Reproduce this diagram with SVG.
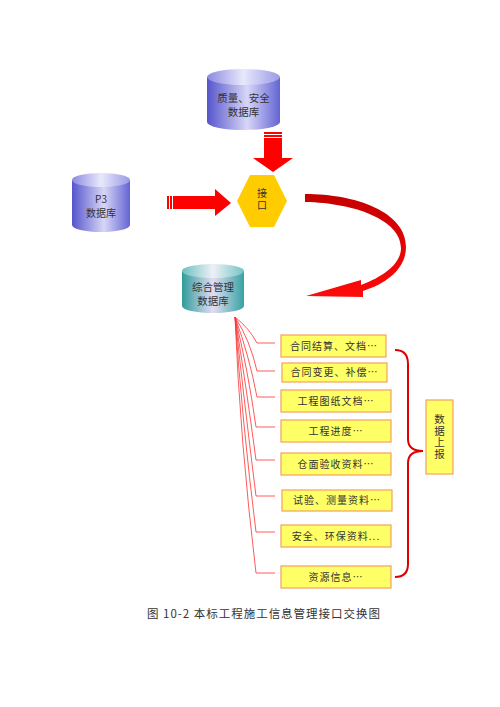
<svg xmlns="http://www.w3.org/2000/svg" width="500" height="707" viewBox="0 0 500 707">
<defs>
<linearGradient id="gBlue" x1="0" y1="0" x2="1" y2="0">
<stop offset="0" stop-color="#5555cc"/>
<stop offset="0.55" stop-color="#d8d6f6"/>
<stop offset="1" stop-color="#6464d4"/>
</linearGradient>
<linearGradient id="gBlueTop" x1="0" y1="0" x2="1" y2="0">
<stop offset="0" stop-color="#8a8ae0"/>
<stop offset="0.5" stop-color="#e8e8fc"/>
<stop offset="1" stop-color="#9a9ae6"/>
</linearGradient>
<linearGradient id="gTeal" x1="0" y1="0" x2="1" y2="0">
<stop offset="0" stop-color="#2f9c9c"/>
<stop offset="0.5" stop-color="#e4dcf2"/>
<stop offset="1" stop-color="#36a3a3"/>
</linearGradient>
<linearGradient id="gTealTop" x1="0" y1="0" x2="1" y2="0">
<stop offset="0" stop-color="#6cc0c0"/>
<stop offset="0.5" stop-color="#eef0f6"/>
<stop offset="1" stop-color="#74c4c4"/>
</linearGradient>
<linearGradient id="gCurve" x1="0" y1="0" x2="0" y2="1">
<stop offset="0" stop-color="#c40000"/>
<stop offset="1" stop-color="#ff0a0a"/>
</linearGradient>
<style>
.t{font-family:"Noto Sans CJK SC","Noto Sans",sans-serif;fill:#333;text-anchor:middle}
.db{font-size:10.5px}
.box{fill:#ffff66;stroke:#f4a060;stroke-width:1.2}
.bt{font-size:10px;letter-spacing:1px}
.fan{fill:none;stroke:#ff3030;stroke-width:0.8}
.arr{fill:#ff0000}
.stripe{stroke:#ffffff;stroke-width:1}
.vert{writing-mode:vertical-rl}
</style>
</defs>

<g id="db-quality">
<path d="M207,77 L207,122 A36.5,8 0 0 0 280,122 L280,77 Z" fill="url(#gBlue)"/>
<ellipse cx="243.5" cy="77" rx="36.5" ry="8" fill="url(#gBlueTop)"/>
<text class="t db" x="243.5" y="102">质量、安全</text>
<text class="t db" x="243.5" y="116">数据库</text>
</g>

<g id="db-p3">
<path d="M72,180 L72,225 A29,7 0 0 0 130,225 L130,180 Z" fill="url(#gBlue)"/>
<ellipse cx="101" cy="180" rx="29" ry="7" fill="url(#gBlueTop)"/>
<text class="t" font-size="10" x="101" y="203">P3</text>
<text class="t" font-size="10" x="101" y="217">数据库</text>
</g>

<g id="interface">
<polygon points="237,201 250,175 274,175 287,201 274,227 250,227" fill="#ffcc00"/>
<text class="t vert" font-size="10" x="262" y="200" style="letter-spacing:2px">接口</text>
</g>

<g id="db-integrated">
<path d="M182,271 L182,306 A31,7 0 0 0 244,306 L244,271 Z" fill="url(#gTeal)"/>
<ellipse cx="213" cy="271" rx="31" ry="7" fill="url(#gTealTop)"/>
<text class="t db" x="213" y="291">综合管理</text>
<text class="t db" x="213" y="305">数据库</text>
</g>

<g id="connectors">
<polygon class="arr" points="264,132 282,132 282,158 293,158 273,172 253,158 264,158"/>
<line class="stripe" x1="263" y1="134.5" x2="283" y2="134.5"/>
<line class="stripe" x1="263" y1="137.5" x2="283" y2="137.5"/>
<polygon class="arr" points="167,196 215,196 215,189 231,203 215,216 215,209 167,209"/>
<line class="stripe" x1="169.5" y1="195" x2="169.5" y2="210"/>
<line class="stripe" x1="172.5" y1="195" x2="172.5" y2="210"/>
<path d="M305,194 C356,194 406,212 406,247 C406,268 388,283 363,291 L363,297 L306,296 L361,280 L361,285 C385,276 401,263 401,248 C401,220 355,203 305,202 Z" fill="url(#gCurve)"/>
<path class="fan" d="M235,317 Q249,328 257,343 L275,343"/>
<path class="fan" d="M235,317 Q250,340 257,371 L275,371"/>
<path class="fan" d="M235,317 Q249,355 257,397 L275,397"/>
<path class="fan" d="M235,317 Q248,370 256,427 L275,427"/>
<path class="fan" d="M235,317 Q246,385 256,460 L275,460"/>
<path class="fan" d="M235,317 Q244,400 256,496 L275,496"/>
<path class="fan" d="M235,317 Q242,420 256,532 L275,532"/>
<path class="fan" d="M235,317 Q240,440 256,573 L275,573"/>
<path d="M395,350 Q408,350 408,364 L408,439 Q408,451 423,451 Q408,451 408,463 L408,564 Q408,577 395,577" fill="none" stroke="#e00000" stroke-width="2"/>
</g>

<g id="box1"><rect class="box" x="281" y="335" width="105" height="22"/><text class="t bt" x="334" y="349.5">合同结算、文档…</text></g>
<g id="box2"><rect class="box" x="282" y="363" width="105" height="19"/><text class="t bt" x="334.5" y="376">合同变更、补偿…</text></g>
<g id="box3"><rect class="box" x="281" y="390" width="110" height="22"/><text class="t bt" x="336" y="404.5">工程图纸文档…</text></g>
<g id="box4"><rect class="box" x="281" y="420" width="110" height="22"/><text class="t bt" x="336" y="434.5">工程进度…</text></g>
<g id="box5"><rect class="box" x="281" y="453" width="110" height="22"/><text class="t bt" x="336" y="467.5">仓面验收资料…</text></g>
<g id="box6"><rect class="box" x="282" y="490" width="110" height="21"/><text class="t bt" x="337" y="504">试验、测量资料…</text></g>
<g id="box7"><rect class="box" x="281" y="525" width="110" height="22"/><text class="t bt" x="336" y="539.5">安全、环保资料...</text></g>
<g id="box8"><rect class="box" x="281" y="566" width="110" height="22"/><text class="t bt" x="336" y="580.5">资源信息…</text></g>

<g id="report">
<rect class="box" x="426" y="400" width="27" height="74"/>
<text class="t vert" font-size="10.5" x="439.5" y="437" style="letter-spacing:1px">数据上报</text>
</g>

<text class="t" font-size="11.5" x="263.5" y="618" fill="#222" textLength="233">图 10-2 本标工程施工信息管理接口交换图</text>
</svg>
